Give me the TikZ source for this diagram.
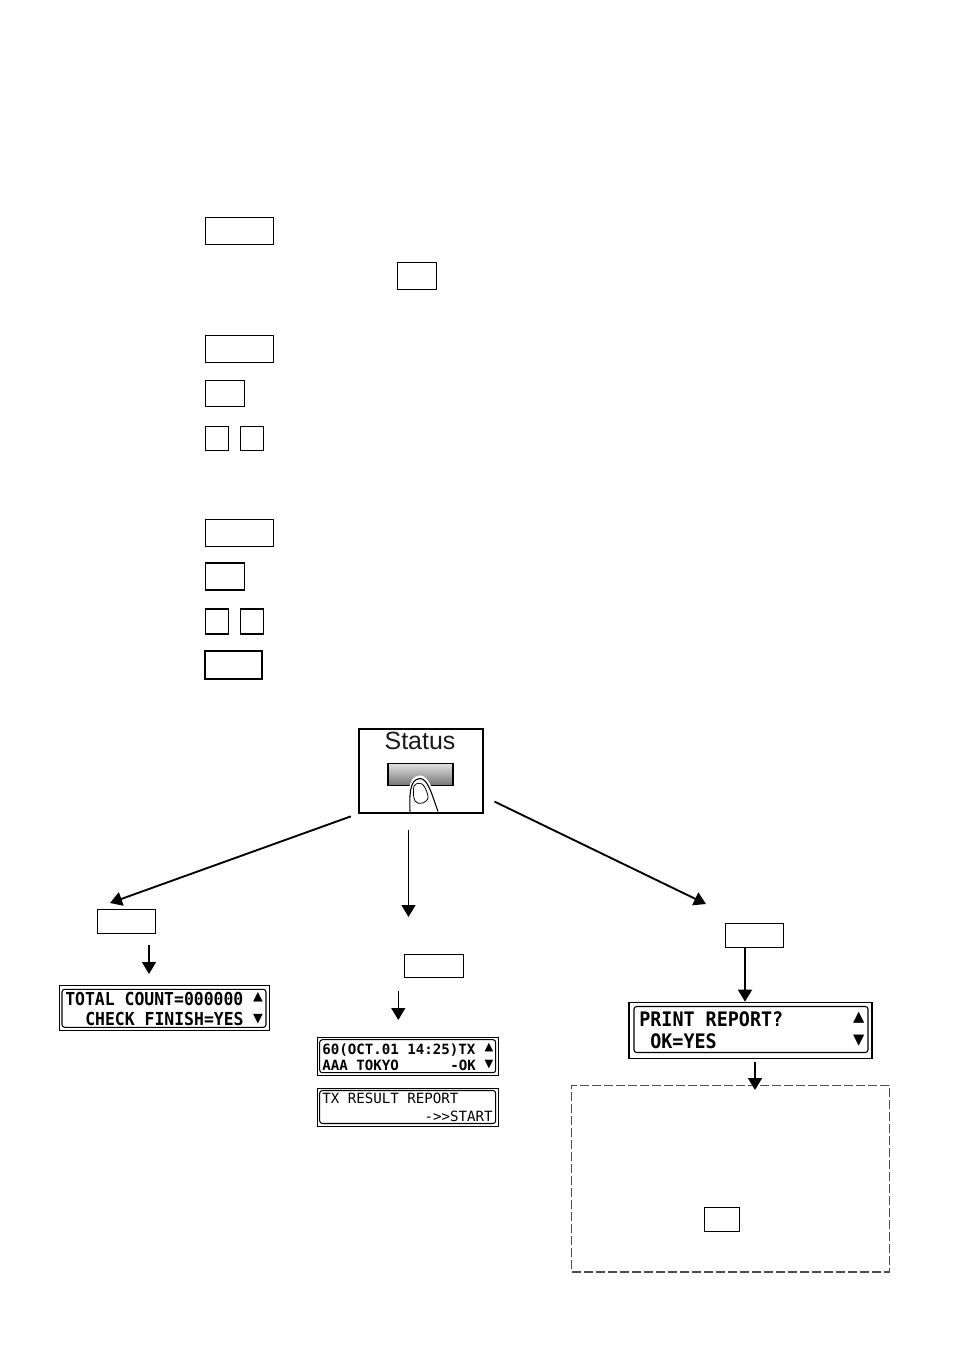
\documentclass[tikz,border=0pt]{standalone}
\usepackage{fontspec}
\usetikzlibrary{arrows.meta}
\setmainfont{Liberation Sans}
\newfontfamily\lcdfont{DejaVu Sans Mono}
\newfontfamily\lcdnarrow[FakeStretch=0.92]{DejaVu Sans Mono}
\newfontfamily\markfont{DejaVu Sans}
\begin{document}
\begin{tikzpicture}[x=0.75pt,y=-0.75pt,
     keybox/.style 2 args={draw,line width=0.8pt,inner sep=0pt,minimum width=#1*0.75pt,minimum height=#2*0.75pt},
     lcdouter/.style 2 args={draw,line width=0.7pt,inner sep=0pt,minimum width=#1*0.75pt,minimum height=#2*0.75pt},
     lcdinner/.style 2 args={draw,line width=0.8pt,rounded corners=2pt,inner sep=0pt,minimum width=#1*0.75pt,minimum height=#2*0.75pt},
     lcdbig/.style={inner sep=0pt,anchor=base west,font=\lcdnarrow\bfseries\fontsize{13.4pt}{14pt}\selectfont},
     lcdsmall/.style={inner sep=0pt,anchor=base west,font=\lcdfont\bfseries\fontsize{10.6pt}{12pt}\selectfont},
     lcdlarge/.style={inner sep=0pt,anchor=base west,font=\lcdnarrow\bfseries\fontsize{15pt}{16pt}\selectfont},
     lcdmark/.style={inner sep=0pt,font=\markfont\fontsize{#1}{#1}\selectfont},
     flow/.style={line width=1.4pt,-{Triangle[length=9pt,width=10.5pt]}}]
     \useasboundingbox (0,0) rectangle (954,1350);
     \node (menua) [keybox={68}{27}] at (239.5,230.8) {};
     \node (enter) [keybox={39}{27}] at (417,275.8) {};
     \node (menub) [keybox={68}{27}] at (239.5,348.8) {};
     \node (yesb) [keybox={39}{26}] at (224.8,393.3) {};
     \node (upb) [keybox={23}{24}] at (216.8,438.3) {};
     \node (downb) [keybox={23}{24}] at (251.8,438.3) {};
     \node (menuc) [keybox={68}{27}] at (239.5,533) {};
     \node (yesc) [keybox={39}{27}] at (224.8,576.5) {};
     \node (upc) [keybox={23}{25}] at (216.8,621.5) {};
     \node (downc) [keybox={23}{25}] at (251.8,621.5) {};
     \node (startc) [keybox={57}{28}] at (233.5,665) {};

     \node (status) [keybox={124}{84},line width=1pt] at (421,771) {};
     \node (statustext) [inner sep=0pt,anchor=base,font=\fontsize{18.7pt}{20pt}\selectfont,text=black!90] at (420,749.5) {Status};
     \node (statusbtn) [keybox={65}{22},line width=1pt,top color=black!12,bottom color=black!55] at (420.5,774.7) {};
     \draw [white,line width=1.6pt,fill=white] (409.5,811) .. controls (409,797) and (408,777) .. (420,776.5) .. controls (429,776.5) and (433,795) .. (438.5,811);
     \draw [line width=0.8pt,fill=white] (410,811.5) .. controls (409.5,797) and (409,779) .. (420,778.5) .. controls (428,778.5) and (432,795) .. (438,811.5);
     \draw [line width=0.6pt] (414,786) .. controls (419,780) and (425,783) .. (428,796) .. controls (429,803) and (418,806) .. (415,801) .. controls (413,797) and (413,790) .. (414,786);

     \coordinate (tipl) at (110,903);
     \coordinate (tipm) at (408.5,917);
     \coordinate (tipr) at (706,904);
     \draw [flow,shorten <=6pt] (status.south west) -- (tipl);
     \draw [flow,line width=0.9pt,shorten <=12pt] (status.south -| tipm) -- (tipm);
     \draw [flow,shorten <=9pt] (status.-22.5) -- (tipr);

     \node (keyl) [keybox={58}{24}] at (126.5,921.5) {};
     \node (keym) [keybox={59}{23}] at (434.2,966) {};
     \node (keyr) [keybox={58}{24}] at (754.5,935.3) {};

     \node (lcdl) [lcdouter={210}{45}] at (164,1008.3) {};
     \node (lcdlin) [lcdinner={204}{38}] at (164,1008.3) {};
     \node (lcdla) [lcdbig] at (65,1005) {TOTAL COUNT=000000};
     \node (lcdlb) [lcdbig] at (85,1025) {CHECK FINISH=YES};
     \node (lcdlu) [lcdmark=9.5pt] at (258,997) {▲};
     \node (lcdld) [lcdmark=9.5pt] at (258,1019) {▼};

     \node (lcdm) [lcdouter={181}{38}] at (407.7,1056.2) {};
     \node (lcdmin) [lcdinner={176}{33}] at (407.7,1056.2) {};
     \node (lcdma) [lcdsmall] at (322,1054) {60(OCT.01 14:25)TX};
     \node (lcdmb) [lcdsmall] at (322,1070) {AAA TOKYO};
     \node (lcdmc) [lcdsmall] at (450,1070) {-OK};
     \node (lcdmu) [lcdmark=8.5pt] at (489,1048) {▲};
     \node (lcdmd) [lcdmark=8.5pt] at (489,1065) {▼};

     \node (lcds) [lcdouter={181}{38}] at (407.7,1107) {};
     \node (lcdsin) [lcdinner={176}{33}] at (407.7,1107) {};
     \node (lcdsa) [lcdsmall,font=\lcdfont\fontsize{10.6pt}{12pt}\selectfont] at (322,1103) {TX RESULT REPORT};
     \node (lcdsb) [lcdsmall,font=\lcdfont\fontsize{10.6pt}{12pt}\selectfont,anchor=base east] at (493,1121) {->>START};

     \node (lcdr) [lcdouter={243}{56},line width=1.3pt] at (750.2,1030.5) {};
     \node (lcdrin) [lcdinner={234}{46}] at (751,1029.5) {};
     \node (lcdra) [lcdlarge] at (639,1026) {PRINT REPORT?};
     \node (lcdrb) [lcdlarge] at (650,1048) {OK=YES};
     \node (lcdru) [lcdmark=11pt] at (858.7,1018) {▲};
     \node (lcdrd) [lcdmark=11pt] at (858.7,1041) {▼};

     \node (result) [keybox={317.5}{186.5},line width=0.8pt,draw=black!70,dash pattern=on 6.75pt off 2.25pt] at (730.7,1178.7) {};
     \node (resultok) [keybox={35}{24}] at (722,1219.5) {};

     \coordinate (tipa) at (149,974);
     \coordinate (tipb) at (398.3,1020);
     \coordinate (tipc) at (745,1003);
     \coordinate (tipd) at (755,1090);
     \draw [flow,line width=0.9pt,shorten <=8pt] (keyl.south -| tipa) -- (tipa);
     \draw [flow,line width=0.9pt,shorten <=10pt] (keym.south -| tipb) -- (tipb);
     \draw [flow] (keyr.south -| tipc) -- (lcdr.north -| tipc);
     \draw [flow,shorten <=2pt] (lcdr.south -| tipd) -- (tipd);
\end{tikzpicture}
\end{document}
